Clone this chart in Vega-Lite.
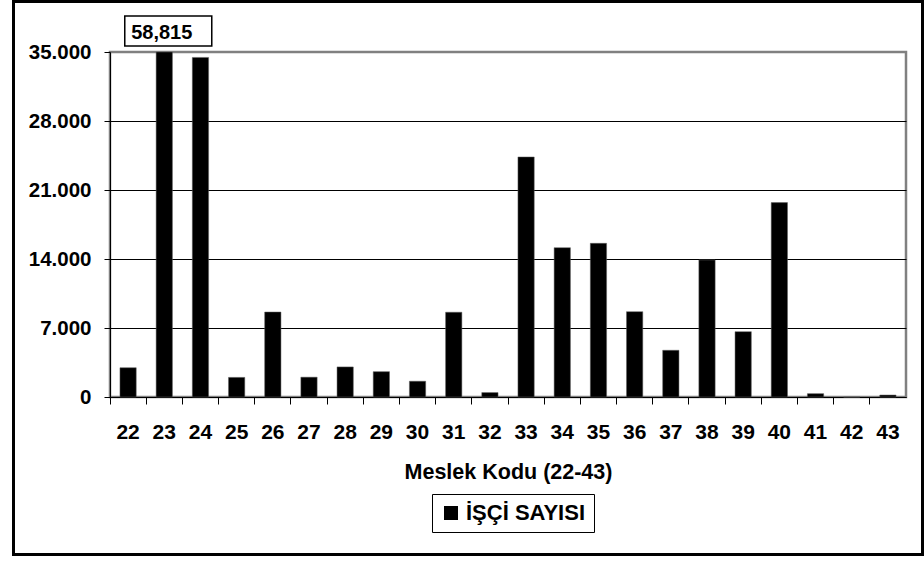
{
  "$schema": "https://vega.github.io/schema/vega-lite/v6.json",
  "width": 796,
  "height": 345,
  "autosize": {"type": "none"},
  "padding": {"left": 110, "top": 52, "right": 18, "bottom": 164},
  "background": "white",
  "config": {
    "font": "Liberation Sans",
    "view": {"stroke": "#808080", "strokeWidth": 2.5},
    "axis": {
      "domainColor": "black",
      "tickColor": "black",
      "labelColor": "black",
      "labelFontWeight": "bold",
      "titleColor": "black",
      "titleFontWeight": "bold",
      "labelFont": "Liberation Sans",
      "titleFont": "Liberation Sans"
    }
  },
  "datasets": {
    "isci": [
      {"kod": "22", "value": 2970},
      {"kod": "23", "value": 58815},
      {"kod": "24", "value": 34450},
      {"kod": "25", "value": 1990},
      {"kod": "26", "value": 8620},
      {"kod": "27", "value": 2010},
      {"kod": "28", "value": 3050},
      {"kod": "29", "value": 2570},
      {"kod": "30", "value": 1600},
      {"kod": "31", "value": 8600},
      {"kod": "32", "value": 450},
      {"kod": "33", "value": 24350},
      {"kod": "34", "value": 15150},
      {"kod": "35", "value": 15590},
      {"kod": "36", "value": 8660},
      {"kod": "37", "value": 4740},
      {"kod": "38", "value": 13900},
      {"kod": "39", "value": 6630},
      {"kod": "40", "value": 19720},
      {"kod": "41", "value": 340},
      {"kod": "42", "value": 0},
      {"kod": "43", "value": 200}
    ]
  },
  "layer": [
    {
      "data": {"name": "isci"},
      "mark": {"type": "bar", "stroke": "#606060", "strokeWidth": 0.5},
      "encoding": {
        "x": {
          "field": "kod",
          "type": "ordinal",
          "scale": {"paddingInner": 0.55, "paddingOuter": 0.275},
          "axis": {
            "title": "Meslek Kodu (22-43)",
            "labelAngle": 0,
            "labelFontSize": 21,
            "titleFontSize": 21.5,
            "bandPosition": -0.611,
            "tickSize": 7,
            "labelPadding": 17,
            "titlePadding": 19.5,
            "grid": false
          }
        },
        "y": {
          "field": "value",
          "type": "quantitative",
          "scale": {"domain": [0, 35000], "clamp": true, "nice": false},
          "axis": {
            "title": null,
            "values": [0, 7000, 14000, 21000, 28000, 35000],
            "labelExpr": "replace(format(datum.value, ','), ',', '.')",
            "labelFontSize": 20.5,
            "tickSize": 6,
            "labelPadding": 13,
            "grid": true,
            "gridColor": {"condition": {"test": "datum.value === 35000", "value": "#808080"}, "value": "black"},
            "gridWidth": 1,
            "gridOpacity": 1
          }
        },
        "color": {
          "datum": "İŞÇİ SAYISI",
          "type": "nominal",
          "scale": {"range": ["black"]},
          "legend": {
            "title": null,
            "orient": "none",
            "legendX": 322,
            "legendY": 442,
            "direction": "horizontal",
            "strokeColor": "black",
            "padding": 8,
            "symbolType": "square",
            "symbolSize": 196,
            "symbolStrokeWidth": 0,
            "labelFontSize": 22,
            "labelFontWeight": "bold",
            "labelColor": "black",
            "labelFont": "Liberation Sans",
            "labelOffset": 4
          }
        }
      }
    },
    {
      "data": {"name": "isci"},
      "transform": [{"filter": "datum.value > 35000"}],
      "mark": {
        "type": "point",
        "shape": "M-1.45,-0.5H1.45V0.5H-1.45Z",
        "size": 3600,
        "filled": true,
        "fill": "white",
        "stroke": "black",
        "strokeWidth": 1.5,
        "opacity": 1,
        "xOffset": 4,
        "yOffset": -21
      },
      "encoding": {
        "x": {"field": "kod", "type": "ordinal"},
        "y": {"field": "value", "type": "quantitative"}
      }
    },
    {
      "data": {"name": "isci"},
      "transform": [{"filter": "datum.value > 35000"}],
      "mark": {
        "type": "text",
        "font": "Liberation Sans",
        "fontWeight": "bold",
        "fontSize": 20,
        "color": "black",
        "baseline": "middle",
        "align": "center",
        "xOffset": -2.5,
        "yOffset": -19.5
      },
      "encoding": {
        "x": {"field": "kod", "type": "ordinal"},
        "y": {"field": "value", "type": "quantitative"},
        "text": {"field": "value", "type": "quantitative", "format": ",d"}
      }
    },
    {
      "data": {"values": [{"frame": 1}]},
      "mark": {"type": "rect", "fill": null, "filled": false, "stroke": "black", "strokeWidth": 3},
      "encoding": {
        "x": {"value": -96.5},
        "x2": {"value": 812.5},
        "y": {"value": -50.5},
        "y2": {"value": 502.5}
      }
    }
  ]
}
